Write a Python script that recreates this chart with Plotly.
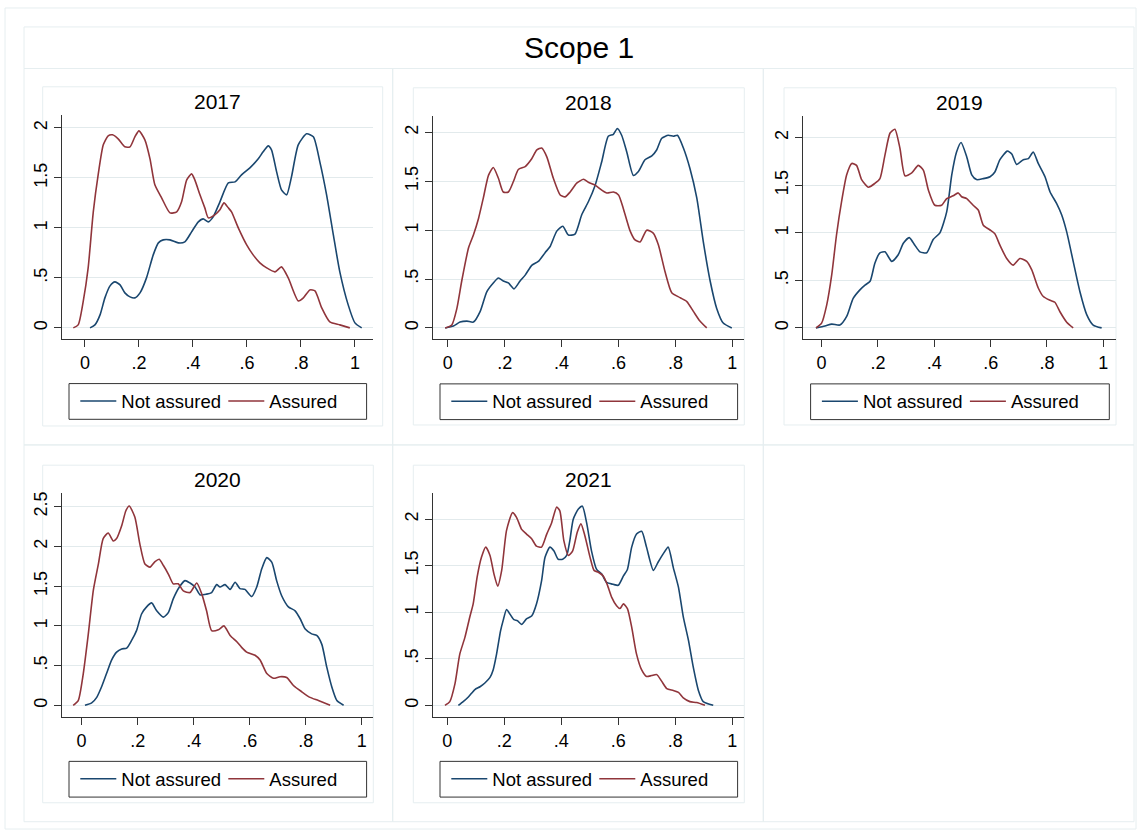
import plotly.graph_objects as go

# ---------------- data ----------------
YEARS = ["2017", "2018", "2019", "2020", "2021"]
SERIES = ["Not assured", "Assured"]
X_TICKS = [0, 0.2, 0.4, 0.6, 0.8, 1]
X_TICK_TEXT = ["0", ".2", ".4", ".6", ".8", "1"]
Y_TICKS = [0, 0.5, 1, 1.5, 2, 2.5]
Y_TICK_TEXT = ["0", ".5", "1", "1.5", "2", "2.5"]
MAIN_TITLE = "Scope 1"

# 2017
x_2017_not = [0.019, 0.037, 0.056, 0.074, 0.093, 0.111, 0.130, 0.148, 0.167, 0.185, 0.204, 0.228, 0.253, 0.272,
              0.290, 0.315, 0.346, 0.370, 0.395, 0.420, 0.438, 0.457, 0.475, 0.500, 0.531, 0.556, 0.580, 0.611,
              0.642, 0.660, 0.679, 0.691, 0.710, 0.728, 0.747, 0.765, 0.790, 0.821, 0.846, 0.870, 0.895, 0.920,
              0.944, 0.975, 1.000, 1.025]
y_2017_not = [0.00, 0.03, 0.13, 0.30, 0.42, 0.46, 0.43, 0.35, 0.31, 0.30, 0.35, 0.50, 0.73, 0.85,
              0.88, 0.88, 0.85, 0.86, 0.96, 1.06, 1.09, 1.06, 1.11, 1.26, 1.45, 1.46, 1.53, 1.60,
              1.69, 1.76, 1.82, 1.78, 1.56, 1.38, 1.33, 1.51, 1.83, 1.94, 1.91, 1.66, 1.33, 0.93,
              0.56, 0.23, 0.05, 0.00]
x_2017_ass = [-0.043, -0.025, -0.006, 0.012, 0.031, 0.049, 0.068, 0.086, 0.102, 0.123, 0.148, 0.167, 0.185,
              0.200, 0.222, 0.241, 0.259, 0.284, 0.315, 0.340, 0.358, 0.377, 0.395, 0.407, 0.426, 0.444, 0.457,
              0.481, 0.500, 0.515, 0.531, 0.543, 0.568, 0.599, 0.623, 0.648, 0.673, 0.704, 0.728, 0.753, 0.790,
              0.809, 0.833, 0.852, 0.877, 0.907, 0.944, 0.981]
y_2017_ass = [0.00, 0.03, 0.27, 0.60, 1.16, 1.53, 1.83, 1.92, 1.93, 1.89, 1.81, 1.81, 1.91,
              1.97, 1.88, 1.69, 1.43, 1.30, 1.15, 1.16, 1.26, 1.48, 1.54, 1.48, 1.33, 1.20, 1.10,
              1.13, 1.18, 1.25, 1.20, 1.16, 1.00, 0.83, 0.73, 0.65, 0.60, 0.56, 0.61, 0.50, 0.27,
              0.30, 0.38, 0.37, 0.20, 0.06, 0.03, 0.00]

# 2018
x_2018_not = [-0.009, 0.020, 0.043, 0.067, 0.090, 0.114, 0.137, 0.160, 0.178, 0.195, 0.213, 0.233, 0.254,
              0.272, 0.295, 0.318, 0.342, 0.359, 0.383, 0.404, 0.424, 0.447, 0.471, 0.494, 0.518, 0.541, 0.564,
              0.582, 0.596, 0.611, 0.629, 0.652, 0.670, 0.693, 0.717, 0.734, 0.752, 0.775, 0.793, 0.807, 0.828,
              0.851, 0.875, 0.898, 0.922, 0.945, 0.968, 0.998]
y_2018_not = [0.00, 0.02, 0.06, 0.07, 0.06, 0.17, 0.37, 0.46, 0.51, 0.48, 0.46, 0.40, 0.48,
              0.54, 0.64, 0.68, 0.77, 0.83, 0.99, 1.04, 0.95, 0.96, 1.16, 1.29, 1.46, 1.70, 1.96,
              1.98, 2.04, 1.97, 1.80, 1.56, 1.60, 1.72, 1.76, 1.82, 1.94, 1.97, 1.96, 1.97, 1.84,
              1.63, 1.33, 0.88, 0.48, 0.20, 0.05, 0.00]
x_2018_ass = [-0.009, 0.014, 0.032, 0.049, 0.073, 0.090, 0.108, 0.125, 0.143, 0.160, 0.178, 0.195, 0.213,
              0.231, 0.248, 0.272, 0.295, 0.313, 0.330, 0.348, 0.371, 0.395, 0.412, 0.430, 0.453, 0.477, 0.494,
              0.518, 0.541, 0.559, 0.582, 0.600, 0.617, 0.641, 0.658, 0.676, 0.699, 0.722, 0.740, 0.763, 0.787,
              0.816, 0.840, 0.863, 0.886, 0.910]
y_2018_ass = [0.00, 0.03, 0.20, 0.48, 0.82, 0.95, 1.12, 1.33, 1.56, 1.64, 1.53, 1.39, 1.39,
              1.50, 1.62, 1.65, 1.73, 1.82, 1.84, 1.75, 1.53, 1.36, 1.34, 1.39, 1.48, 1.52, 1.49,
              1.46, 1.41, 1.38, 1.39, 1.36, 1.22, 0.99, 0.90, 0.88, 1.00, 0.97, 0.85, 0.58, 0.36,
              0.31, 0.27, 0.17, 0.07, 0.00]

# 2019
x_2019_not = [-0.020, 0.012, 0.036, 0.065, 0.089, 0.112, 0.136, 0.154, 0.172, 0.189, 0.207, 0.225, 0.249,
              0.272, 0.290, 0.311, 0.331, 0.349, 0.373, 0.396, 0.420, 0.444, 0.462, 0.479, 0.495, 0.515, 0.533,
              0.550, 0.574, 0.598, 0.615, 0.633, 0.659, 0.675, 0.692, 0.716, 0.734, 0.751, 0.769, 0.793, 0.811,
              0.834, 0.852, 0.870, 0.893, 0.917, 0.941, 0.964, 0.994]
y_2019_not = [0.00, 0.02, 0.04, 0.03, 0.12, 0.31, 0.40, 0.45, 0.49, 0.68, 0.79, 0.80, 0.70,
              0.77, 0.89, 0.95, 0.87, 0.80, 0.79, 0.93, 1.00, 1.22, 1.61, 1.85, 1.95, 1.80, 1.61,
              1.56, 1.57, 1.59, 1.64, 1.77, 1.86, 1.83, 1.72, 1.77, 1.78, 1.85, 1.73, 1.59, 1.43,
              1.31, 1.19, 1.01, 0.70, 0.38, 0.14, 0.03, 0.00]
x_2019_ass = [-0.020, 0.000, 0.018, 0.036, 0.053, 0.071, 0.089, 0.107, 0.124, 0.142, 0.166, 0.189, 0.207,
              0.225, 0.243, 0.260, 0.278, 0.296, 0.320, 0.343, 0.361, 0.379, 0.402, 0.426, 0.444, 0.467, 0.485,
              0.497, 0.515, 0.538, 0.556, 0.574, 0.598, 0.615, 0.633, 0.657, 0.680, 0.704, 0.728, 0.746, 0.769,
              0.787, 0.811, 0.828, 0.846, 0.870, 0.893]
y_2019_ass = [0.00, 0.05, 0.24, 0.56, 0.98, 1.33, 1.61, 1.73, 1.71, 1.56, 1.48, 1.52, 1.57,
              1.82, 2.05, 2.09, 1.89, 1.60, 1.63, 1.71, 1.66, 1.45, 1.29, 1.29, 1.36, 1.39, 1.42,
              1.38, 1.36, 1.29, 1.24, 1.08, 1.03, 0.99, 0.87, 0.73, 0.66, 0.73, 0.70, 0.61, 0.42,
              0.33, 0.29, 0.27, 0.17, 0.06, 0.00]

# 2020
x_2020_not = [0.012, 0.036, 0.054, 0.071, 0.089, 0.107, 0.125, 0.143, 0.161, 0.179, 0.196, 0.214, 0.232,
              0.250, 0.268, 0.292, 0.310, 0.327, 0.349, 0.369, 0.387, 0.405, 0.423, 0.446, 0.464, 0.482, 0.494,
              0.512, 0.530, 0.548, 0.565, 0.583, 0.607, 0.625, 0.643, 0.661, 0.679, 0.696, 0.714, 0.738, 0.762,
              0.780, 0.798, 0.821, 0.839, 0.857, 0.875, 0.893, 0.911, 0.935]
y_2020_not = [0.00, 0.03, 0.10, 0.23, 0.40, 0.57, 0.67, 0.71, 0.72, 0.82, 0.94, 1.15, 1.24,
              1.29, 1.19, 1.11, 1.17, 1.34, 1.49, 1.57, 1.54, 1.49, 1.39, 1.40, 1.42, 1.52, 1.49,
              1.52, 1.46, 1.55, 1.47, 1.46, 1.37, 1.49, 1.72, 1.86, 1.80, 1.57, 1.38, 1.24, 1.19,
              1.09, 0.96, 0.90, 0.88, 0.77, 0.48, 0.23, 0.06, 0.00]
x_2020_ass = [-0.030, -0.012, 0.006, 0.024, 0.042, 0.060, 0.077, 0.095, 0.113, 0.125, 0.143, 0.158, 0.170,
              0.190, 0.208, 0.226, 0.244, 0.262, 0.277, 0.292, 0.310, 0.327, 0.345, 0.363, 0.387, 0.411, 0.429,
              0.446, 0.464, 0.488, 0.508, 0.530, 0.554, 0.571, 0.589, 0.619, 0.637, 0.661, 0.685, 0.708, 0.732,
              0.756, 0.786, 0.815, 0.845, 0.887]
y_2020_ass = [0.00, 0.06, 0.40, 0.90, 1.45, 1.78, 2.10, 2.17, 2.07, 2.10, 2.26, 2.45, 2.51,
              2.37, 2.03, 1.78, 1.74, 1.81, 1.84, 1.76, 1.65, 1.53, 1.53, 1.44, 1.42, 1.54, 1.40,
              1.19, 0.94, 0.95, 1.00, 0.88, 0.80, 0.73, 0.67, 0.63, 0.57, 0.40, 0.34, 0.36, 0.35,
              0.25, 0.17, 0.10, 0.06, 0.00]

# 2021
x_2021_not = [0.039, 0.056, 0.074, 0.097, 0.115, 0.132, 0.150, 0.161, 0.173, 0.187, 0.196, 0.208, 0.220,
              0.234, 0.246, 0.261, 0.278, 0.296, 0.313, 0.331, 0.343, 0.360, 0.374, 0.389, 0.405, 0.419, 0.430,
              0.442, 0.460, 0.474, 0.489, 0.506, 0.524, 0.542, 0.559, 0.582, 0.600, 0.618, 0.632, 0.647, 0.664,
              0.682, 0.699, 0.723, 0.740, 0.758, 0.775, 0.793, 0.811, 0.828, 0.846, 0.863, 0.881, 0.898, 0.933]
y_2021_not = [0.00, 0.04, 0.09, 0.17, 0.20, 0.24, 0.30, 0.38, 0.55, 0.80, 0.91, 1.03, 0.98,
              0.92, 0.91, 0.87, 0.93, 0.96, 1.09, 1.34, 1.59, 1.70, 1.66, 1.57, 1.57, 1.61, 1.77,
              2.00, 2.11, 2.14, 1.96, 1.66, 1.46, 1.41, 1.32, 1.30, 1.29, 1.39, 1.46, 1.70, 1.84,
              1.87, 1.70, 1.45, 1.54, 1.63, 1.70, 1.48, 1.27, 0.95, 0.70, 0.41, 0.16, 0.04, 0.00]
x_2021_ass = [-0.008, 0.009, 0.027, 0.044, 0.062, 0.080, 0.091, 0.105, 0.120, 0.135, 0.150, 0.164, 0.177,
              0.191, 0.208, 0.229, 0.243, 0.261, 0.278, 0.296, 0.313, 0.331, 0.349, 0.366, 0.384, 0.395, 0.409,
              0.425, 0.440, 0.456, 0.469, 0.483, 0.501, 0.515, 0.530, 0.547, 0.561, 0.577, 0.594, 0.606, 0.618,
              0.632, 0.647, 0.664, 0.682, 0.699, 0.717, 0.735, 0.752, 0.770, 0.793, 0.811, 0.828, 0.851, 0.875,
              0.904]
y_2021_ass = [0.00, 0.04, 0.23, 0.55, 0.73, 0.96, 1.09, 1.38, 1.59, 1.70, 1.61, 1.41, 1.28,
              1.45, 1.88, 2.07, 2.02, 1.89, 1.84, 1.79, 1.71, 1.70, 1.84, 1.96, 2.13, 2.09, 1.77,
              1.61, 1.66, 1.86, 1.95, 1.82, 1.59, 1.45, 1.43, 1.39, 1.30, 1.16, 1.07, 1.04, 1.09,
              1.04, 0.84, 0.55, 0.38, 0.31, 0.32, 0.33, 0.26, 0.18, 0.16, 0.14, 0.08, 0.04, 0.03,
              0.00]

X_NOT = [x_2017_not, x_2018_not, x_2019_not, x_2020_not, x_2021_not]
Y_NOT = [y_2017_not, y_2018_not, y_2019_not, y_2020_not, y_2021_not]
X_ASS = [x_2017_ass, x_2018_ass, x_2019_ass, x_2020_ass, x_2021_ass]
Y_ASS = [y_2017_ass, y_2018_ass, y_2019_ass, y_2020_ass, y_2021_ass]

# ---------------- layout (pixel geometry of the Stata combined graph) ----------------
W, H = 1140, 834
NAVY = "#1a476f"
MAROON = "#90353b"
AXIS = "#333333"
GRID = "#e2eaec"
FRAME = "#e6eef0"
FONT = "Liberation Sans, Arial, sans-serif"


def fx(px):
    return px / W


def fy(py):
    return 1 - py / H


# plot area (left, top, right, bottom) in px, axis ranges, inner frame
PLOTS = [(61.7, 113.3, 373.3, 338.0), (432.7, 114.0, 744.3, 338.3), (803.3, 114.0, 1116.0, 338.3),
         (61.7, 492.3, 373.3, 716.7), (432.7, 492.3, 744.3, 716.7)]
XRANGES = [(-0.086, 1.068), (-0.053, 1.042), (-0.065, 1.045), (-0.071, 1.041), (-0.051, 1.042)]
YRANGES = [(-0.113, 2.128), (-0.118, 2.17), (-0.122, 2.232), (-0.147, 2.672), (-0.125, 2.28)]
FRAMES = [(42.7, 85, 382.7, 425), (413.3, 86, 744.3, 424), (784, 86, 1116, 424),
          (42.7, 464.3, 373.3, 802.7), (413.3, 464.3, 744.3, 802.7)]

fig = go.Figure()
layout = dict(
    width=W, height=H, margin=dict(l=0, r=0, t=0, b=0),
    paper_bgcolor="white", plot_bgcolor="white",
    font=dict(family=FONT, color="black"),
    showlegend=True,
)
shapes = []
annotations = []


def rect(x0, y0, x1, y1, color=FRAME, width=1):
    return dict(type="rect", xref="paper", yref="paper", x0=fx(x0), x1=fx(x1), y0=fy(y1), y1=fy(y0),
                line=dict(color=color, width=width), fillcolor="rgba(0,0,0,0)", layer="below")


# outer frames
shapes.append(rect(5, 6, 1136, 829))
shapes.append(rect(24, 25, 1134, 66.7))
for (ya, yb) in [(66.7, 444), (444, 821.7)]:
    for (xa, xb) in [(24, 392.7), (392.7, 763.3), (763.3, 1134)]:
        shapes.append(rect(xa, ya, xb, yb))

annotations.append(dict(text=MAIN_TITLE, xref="paper", yref="paper", x=fx(579), y=fy(46),
                        xanchor="center", yanchor="middle", showarrow=False,
                        font=dict(size=30, family=FONT, color="black")))

for i, year in enumerate(YEARS):
    n = i + 1
    sfx = "" if n == 1 else str(n)
    xa, ya = "x" + sfx, "y" + sfx
    lg = "legend" + sfx
    l, t, r, b = PLOTS[i]

    fig.add_trace(go.Scatter(x=X_NOT[i], y=Y_NOT[i], mode="lines", name=SERIES[0],
                             line=dict(color=NAVY, width=1.6, shape="spline", smoothing=0.6),
                             xaxis=xa, yaxis=ya, legend=lg, hoverinfo="skip"))
    fig.add_trace(go.Scatter(x=X_ASS[i], y=Y_ASS[i], mode="lines", name=SERIES[1],
                             line=dict(color=MAROON, width=1.6, shape="spline", smoothing=0.6),
                             xaxis=xa, yaxis=ya, legend=lg, hoverinfo="skip"))

    layout["xaxis" + sfx] = dict(
        domain=[fx(l), fx(r)], anchor=ya, range=list(XRANGES[i]),
        tickmode="array", tickvals=X_TICKS, ticktext=X_TICK_TEXT,
        ticks="outside", ticklen=7, tickwidth=1, tickcolor=AXIS,
        showline=True, linecolor=AXIS, linewidth=1, showgrid=False, zeroline=False,
        tickfont=dict(size=18, family=FONT, color="black"),
    )
    layout["yaxis" + sfx] = dict(
        domain=[fy(b), fy(t)], anchor=xa, range=list(YRANGES[i]),
        tickmode="array", tickvals=Y_TICKS, ticktext=Y_TICK_TEXT, tickangle=-90,
        ticks="outside", ticklen=7, tickwidth=1, tickcolor=AXIS,
        showline=True, linecolor=AXIS, linewidth=1, showgrid=True, gridcolor=GRID, gridwidth=1,
        zeroline=False, tickfont=dict(size=18, family=FONT, color="black"),
    )
    # subgraph inner frame
    shapes.append(rect(*FRAMES[i]))
    # legend box
    shapes.append(dict(type="rect", xref="paper", yref="paper", x0=fx(l + 7.3), x1=fx(r - 6.7),
                       y0=fy(b + 80.3), y1=fy(b + 44.5), line=dict(color=AXIS, width=1),
                       fillcolor="white", layer="below"))
    layout[lg] = dict(
        orientation="h", x=fx(l + 13.6), y=fy(b + 62.4), xanchor="left", yanchor="middle",
        bgcolor="rgba(0,0,0,0)", borderwidth=0, font=dict(size=18.5, family=FONT, color="black"),
        itemwidth=36, entrywidth=97, entrywidthmode="pixels", traceorder="normal",
        itemclick=False, itemdoubleclick=False,
    )
    annotations.append(dict(text=year, xref="paper", yref="paper", x=fx((l + r) / 2), y=fy(t - 13.5),
                            xanchor="center", yanchor="middle", showarrow=False,
                            font=dict(size=21, family=FONT, color="black")))

layout["shapes"] = shapes
layout["annotations"] = annotations
fig.update_layout(**layout)
fig.write_html("out.html", config={"displayModeBar": False},
               post_script="document.body.style.margin='0';")
